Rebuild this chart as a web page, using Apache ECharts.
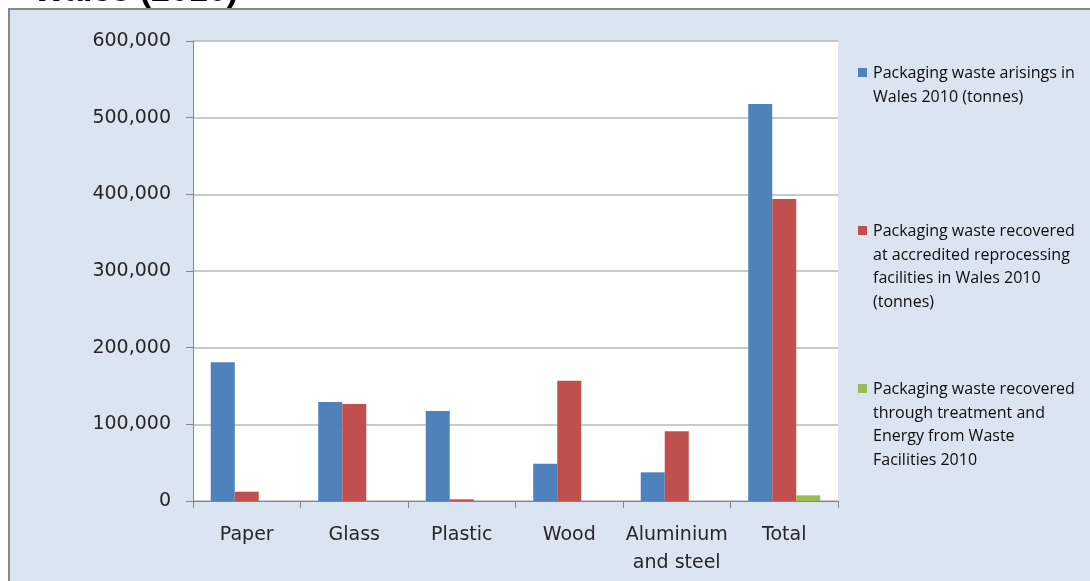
<!DOCTYPE html>
<html>
<head>
<meta charset="utf-8">
<script src="https://cdn.jsdelivr.net/npm/echarts@6/dist/echarts.min.js"></script>
<style>
html,body{margin:0;padding:0;background:#ffffff;}
#chart{width:1090px;height:581px;}
</style>
</head>
<body>
<div id="chart"></div>
<script>
var titleText = 'Wales (2010)';
var categories = ['Paper', 'Glass', 'Plastic', 'Wood', 'Aluminium\nand steel', 'Total'];
var seriesNames = [
  'Packaging waste arisings in\nWales 2010 (tonnes)',
  'Packaging waste recovered\nat accredited reprocessing\nfacilities in Wales 2010\n(tonnes)',
  'Packaging waste recovered\nthrough treatment and\nEnergy from Waste\nFacilities 2010'
];
var arisings = [181000, 129000, 117500, 48700, 37400, 517800];
var recoveredReprocessing = [12100, 126500, 2200, 156900, 90900, 393900];
var recoveredEfW = [0, 0, 0, 0, 0, 7400];
var yTicks = [0, 100000, 200000, 300000, 400000, 500000, 600000];
var colors = ['#4F81BD', '#C0504D', '#9BBB59'];

var chart = echarts.init(document.getElementById('chart'), null, {renderer: 'canvas'});

var legendX = 858, legendTops = [63, 221, 379], lineH = 23.5;
var legendGraphics = [];
seriesNames.forEach(function (name, i) {
  legendGraphics.push({
    type: 'rect', z: 10,
    shape: {x: legendX, y: legendTops[i] + 5, width: 9, height: 9},
    style: {fill: colors[i]}
  });
  legendGraphics.push({
    type: 'text', z: 10,
    x: legendX + 15, y: legendTops[i] - 1,
    style: {
      text: name, fill: '#0d0d0d',
      font: '16px "Open Sans"', lineHeight: lineH,
      textVerticalAlign: 'top'
    }
  });
});

var fmt = function (v) { return v === 0 ? '0' : v.toLocaleString('en-US'); };

var option = {
  backgroundColor: '#ffffff',
  animation: false,
  textStyle: {fontFamily: 'DejaVu Sans'},
  graphic: [
    {
      type: 'rect', z: -10, silent: true,
      shape: {x: 9, y: 9, width: 1100, height: 600},
      style: {fill: '#DBE5F1', stroke: '#888888', lineWidth: 2}
    },
    {
      type: 'text', z: -20,
      x: 238, y: 9,
      style: {
        text: titleText, fill: '#000000',
        font: 'bold 34px "Liberation Sans"',
        textAlign: 'right', textVerticalAlign: 'bottom'
      }
    }
  ].concat(legendGraphics),
  grid: {
    left: 193, top: 41, right: 252, bottom: 80,
    show: true, backgroundColor: '#ffffff', borderWidth: 0
  },
  xAxis: {
    type: 'category',
    data: categories,
    axisLine: {lineStyle: {color: '#868686', width: 1}},
    axisTick: {show: true, length: 7, alignWithLabel: false, lineStyle: {color: '#868686'}},
    axisLabel: {color: '#262626', fontSize: 19, fontFamily: 'DejaVu Sans', margin: 20, lineHeight: 28, interval: 0}
  },
  yAxis: {
    type: 'value',
    min: yTicks[0], max: yTicks[yTicks.length - 1], interval: yTicks[1] - yTicks[0],
    axisLine: {show: true, lineStyle: {color: '#868686', width: 1}},
    axisTick: {show: true, length: 7, lineStyle: {color: '#868686'}},
    axisLabel: {color: '#262626', fontSize: 19, fontFamily: 'DejaVu Sans', margin: 22, formatter: fmt},
    splitLine: {show: true, lineStyle: {color: '#B8B8B8', width: 1.5}}
  },
  series: [
    {name: seriesNames[0], type: 'bar', data: arisings, itemStyle: {color: colors[0]}, barGap: '0%', barCategoryGap: '33%'},
    {name: seriesNames[1], type: 'bar', data: recoveredReprocessing, itemStyle: {color: colors[1]}, barGap: '0%', barCategoryGap: '33%'},
    {name: seriesNames[2], type: 'bar', data: recoveredEfW, itemStyle: {color: colors[2]}, barGap: '0%', barCategoryGap: '33%'}
  ]
};
chart.setOption(option);
</script>
</body>
</html>
